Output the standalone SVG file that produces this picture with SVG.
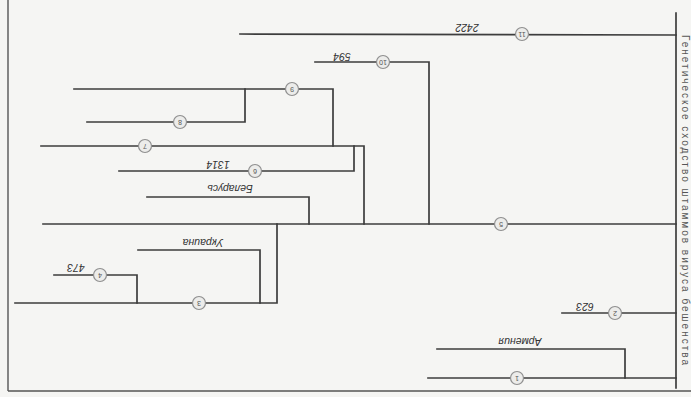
<svg xmlns="http://www.w3.org/2000/svg" width="691" height="397" viewBox="0 0 691 397">
<style>
.ln{stroke:#3d3d3d;stroke-width:1.7;fill:none;stroke-linecap:square}
.fr{stroke:#555;stroke-width:1.4;fill:none}
.nd circle{fill:#ececea;stroke:#8f8f8f;stroke-width:1.2}
.nd text{font-family:"Liberation Sans",Arial,sans-serif;font-size:7px;fill:#555;text-anchor:middle;dominant-baseline:central}
.lb{font-family:"Liberation Sans",Arial,sans-serif;font-size:10.5px;font-style:italic;fill:#333;text-anchor:middle;dominant-baseline:central}
.tt{font-family:"Liberation Sans",Arial,sans-serif;font-size:10px;fill:#555;text-anchor:middle;dominant-baseline:central}
</style>
<rect x="0" y="0" width="691" height="397" fill="#f5f5f3"/>
<g id="frame">
<line class="fr" x1="8" y1="0" x2="8" y2="391"/>
<line class="fr" x1="8" y1="391" x2="691" y2="391"/>
</g>
<g id="connectors">
<line class="ln" x1="676" y1="13" x2="676" y2="388"/>
<line class="ln" x1="240" y1="34" x2="676" y2="35"/>
<polyline class="ln" points="315,62 429,62 429,224"/>
<polyline class="ln" points="74,89 333,89 333,146"/>
<polyline class="ln" points="87,122 245,122 245,89"/>
<polyline class="ln" points="41,146 364,146 364,224"/>
<polyline class="ln" points="119,171 354,171 354,146"/>
<polyline class="ln" points="147,197 309,197 309,224"/>
<line class="ln" x1="43" y1="224" x2="676" y2="224"/>
<polyline class="ln" points="277,224 277,303 15,303"/>
<polyline class="ln" points="138,250 260,250 260,303"/>
<polyline class="ln" points="54,275 137,275 137,303"/>
<line class="ln" x1="562" y1="313" x2="676" y2="313"/>
<polyline class="ln" points="437,349 625,349 625,378"/>
<line class="ln" x1="428" y1="378" x2="676" y2="378"/>
</g>
<g id="labels">
<text class="lb" x="467" y="28" transform="rotate(180 467 28)">2422</text>
<text class="lb" x="342" y="57" transform="rotate(180 342 57)">594</text>
<text class="lb" x="218" y="165" transform="rotate(180 218 165)">1314</text>
<text class="lb" x="230" y="189" transform="rotate(180 230 189)">Беларусь</text>
<text class="lb" x="203" y="243" transform="rotate(180 203 243)">Украина</text>
<text class="lb" x="76" y="268" transform="rotate(180 76 268)">473</text>
<text class="lb" x="585" y="307" transform="rotate(180 585 307)">623</text>
<text class="lb" x="520" y="342" transform="rotate(180 520 342)">Армения</text>
</g>
<g id="n11" class="nd"><circle cx="522" cy="34" r="6.5"/><text x="522" y="34" transform="rotate(180 522 34)">11</text></g>
<g id="n10" class="nd"><circle cx="383" cy="62" r="6.5"/><text x="383" y="62" transform="rotate(180 383 62)">10</text></g>
<g id="n9" class="nd"><circle cx="292" cy="89" r="6.5"/><text x="292" y="89" transform="rotate(180 292 89)">9</text></g>
<g id="n8" class="nd"><circle cx="180" cy="122" r="6.5"/><text x="180" y="122" transform="rotate(180 180 122)">8</text></g>
<g id="n7" class="nd"><circle cx="145" cy="146" r="6.5"/><text x="145" y="146" transform="rotate(180 145 146)">7</text></g>
<g id="n6" class="nd"><circle cx="255" cy="171" r="6.5"/><text x="255" y="171" transform="rotate(180 255 171)">6</text></g>
<g id="n5" class="nd"><circle cx="501" cy="224" r="6.5"/><text x="501" y="224" transform="rotate(180 501 224)">5</text></g>
<g id="n4" class="nd"><circle cx="100" cy="275" r="6.5"/><text x="100" y="275" transform="rotate(180 100 275)">4</text></g>
<g id="n3" class="nd"><circle cx="199" cy="303" r="6.5"/><text x="199" y="303" transform="rotate(180 199 303)">3</text></g>
<g id="n2" class="nd"><circle cx="615" cy="313" r="6.5"/><text x="615" y="313" transform="rotate(180 615 313)">2</text></g>
<g id="n1" class="nd"><circle cx="517" cy="378" r="6.5"/><text x="517" y="378" transform="rotate(180 517 378)">1</text></g>
<g id="title">
<text class="tt" x="685" y="200" textLength="330" lengthAdjust="spacing" transform="rotate(90 685 200)">Генетическое сходство штаммов вируса бешенства</text>
</g>
</svg>
